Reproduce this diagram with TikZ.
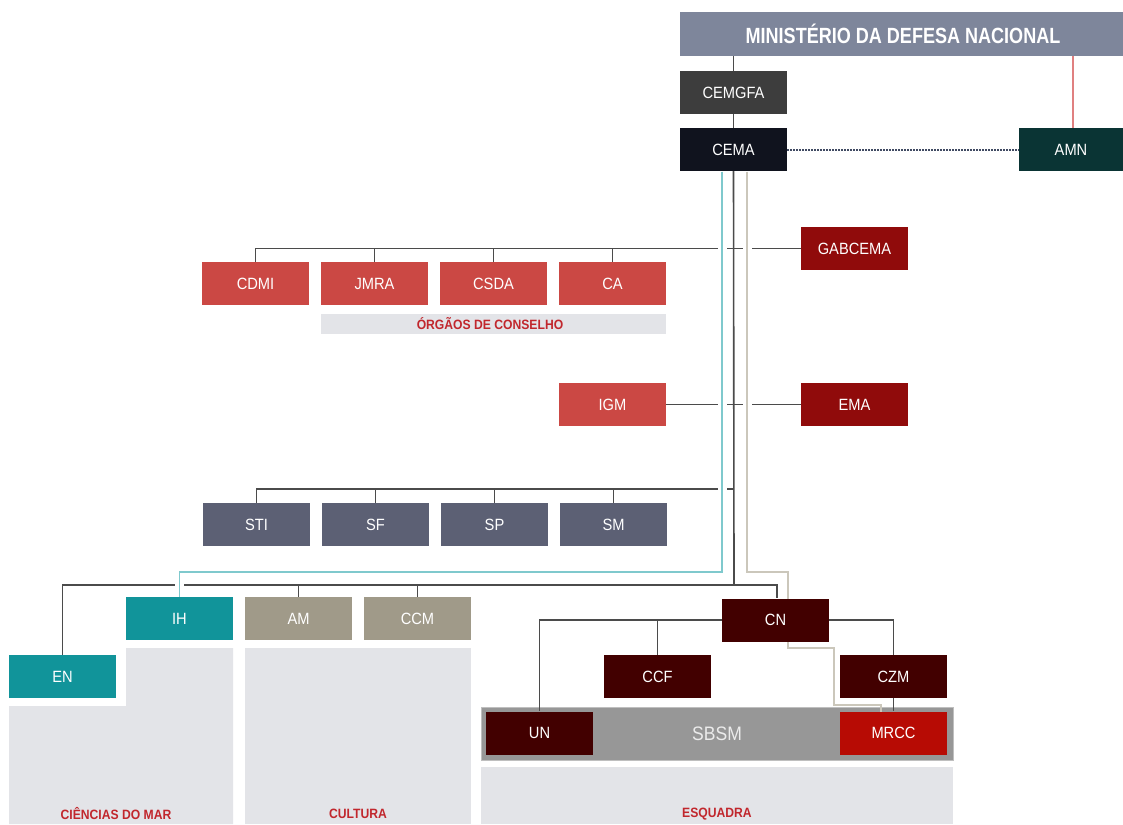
\documentclass[tikz,border=0pt]{standalone}
\usepackage{fontspec}
\setmainfont{Liberation Sans}
\newfontfamily\labfam[FakeStretch=0.9]{Liberation Sans}
\newfontfamily\titfam[FakeStretch=0.82]{Liberation Sans}
\newfontfamily\smfam[FakeStretch=0.9]{Liberation Sans}
\definecolor{cmdn}{HTML}{7E869B}
\definecolor{ccemgfa}{HTML}{3D3D3D}
\definecolor{ccema}{HTML}{10131E}
\definecolor{camn}{HTML}{0A3434}
\definecolor{credl}{HTML}{CB4844}
\definecolor{credd}{HTML}{900B0B}
\definecolor{cslate}{HTML}{5C6074}
\definecolor{cteal}{HTML}{11949A}
\definecolor{ctaupe}{HTML}{A09A89}
\definecolor{cmaroon}{HTML}{420000}
\definecolor{cmrcc}{HTML}{B70B04}
\definecolor{cpanel}{HTML}{E3E4E8}
\definecolor{clabel}{HTML}{C1272D}
\definecolor{cline}{HTML}{4B4B4B}
\definecolor{ctealline}{HTML}{7FC9CD}
\definecolor{cbeige}{HTML}{CBC7BB}
\definecolor{cdot}{HTML}{404A62}
\definecolor{csbsm}{HTML}{979797}
\definecolor{cpink}{HTML}{E08080}
\tikzset{
  bx/.style={minimum width=107pt, minimum height=43pt, inner sep=0pt, text=white,
    font=\labfam\fontsize{16.3}{19}\selectfont},
  dk/.style={draw=cline, line width=1.6pt},
  tl/.style={draw=ctealline, line width=1.9pt},
  bg/.style={draw=cbeige, line width=1.9pt},
  casing/.style={draw=white, line width=9pt},
  plabel/.style={text=clabel, font=\smfam\bfseries\fontsize{13.5}{15}\selectfont, inner sep=0pt}
}
\begin{document}
\begin{tikzpicture}[x=1pt,y=-1pt]
\useasboundingbox (0,0) rectangle (1123,824);
\fill[white] (0,0) rectangle (1123,824);
% panels
\fill[cpanel] (126,648) -- (233,648) -- (233,824) -- (9,824) -- (9,706) -- (126,706) -- cycle;
\fill[cpanel] (245,648) rectangle (471,824);
\fill[cpanel] (481,767) rectangle (953,824);
\node[plabel] (lcdm) at (116,814) {CIÊNCIAS DO MAR};
\node[plabel] (lcul) at (358,814) {CULTURA};
\node[plabel] (lesq) at (717,814) {ESQUADRA};
\fill[cpanel] (321,314) rectangle (666,334);
\node[plabel] (lorg) at (490,324) {ÓRGÃOS DE CONSELHO};
% SBSM band
\node[draw=black!25, line width=0.8pt, fill=csbsm, minimum width=472pt, minimum height=53pt, inner sep=0pt,
  text=white!92!black, font=\labfam\fontsize{19.5}{22}\selectfont] (sbsm) at (717,733.5) {SBSM};

% title box
\node[bx, fill=cmdn, minimum width=443pt, minimum height=44pt] (mdn) at (901.5,34) {};
\node[text=white, font=\titfam\bfseries\fontsize{22}{24}\selectfont, inner sep=0pt] (mdnt) at (903,34) {MINISTÉRIO DA DEFESA NACIONAL};

\path
  (733.5,92.5) coordinate (pcemgfa)
  (733.5,149.5) coordinate (pcema)
  (1071,149.5) coordinate (pamn)
  (854.5,248.5) coordinate (pgab)
  (255.5,283.5) coordinate (pcdmi)
  (374.5,283.5) coordinate (pjmra)
  (493.5,283.5) coordinate (pcsda)
  (612.5,283.5) coordinate (pca)
  (612.5,404.5) coordinate (pigm)
  (854.5,404.5) coordinate (pema)
  (256.5,524.5) coordinate (psti)
  (375.5,524.5) coordinate (psf)
  (494.5,524.5) coordinate (psp)
  (613.5,524.5) coordinate (psm)
  (179.5,618.5) coordinate (pih)
  (62.5,676.5) coordinate (pen)
  (298.5,618.5) coordinate (pam)
  (417.5,618.5) coordinate (pccm)
  (775.5,620) coordinate (pcn)
  (657.5,676.5) coordinate (pccf)
  (893.5,676.5) coordinate (pczm)
  (539.5,733) coordinate (pun)
  (893.5,733) coordinate (pmrcc);

\coordinate (j248) at (734,248);
\coordinate (j489) at (734,489);
\coordinate (j585) at (734,585);
\coordinate (r0) at (1073,56);

% invisible placeholders for anchors
\begin{scope}[every node/.style={bx}]
\node (cemgfa) at (pcemgfa) {};
\node (cema) at (pcema) {};
\node[minimum width=104pt] (amn) at (pamn) {};
\node (gabcema) at (pgab) {};
\node (cdmi) at (pcdmi) {};
\node (jmra) at (pjmra) {};
\node (csda) at (pcsda) {};
\node (ca) at (pca) {};
\node (igm) at (pigm) {};
\node (ema) at (pema) {};
\node (sti) at (psti) {};
\node (sf) at (psf) {};
\node (sp) at (psp) {};
\node (sm) at (psm) {};
\node (ih) at (pih) {};
\node (en) at (pen) {};
\node (am) at (pam) {};
\node (ccm) at (pccm) {};
\node (cn) at (pcn) {};
\node (ccf) at (pccf) {};
\node (czm) at (pczm) {};
\node (un) at (pun) {};
\node (mrcc) at (pmrcc) {};
\end{scope}

% dark lines
\draw[dk] (mdn.south -| cemgfa) -- (cemgfa.north);
\draw[dk] (cemgfa.south) -- (cema.north);
\draw[draw=cdot, line width=2pt, dash pattern=on 1.6pt off 1.4pt] (cema.east) -- (amn.west);
\draw[draw=cpink, line width=1.5pt] (r0) -- (r0 |- amn.north);
\draw[dk] (cema.south) -- (j585);
\draw[dk] (gabcema.west) -| (cdmi.north);
\draw[dk] (jmra.north) -- (jmra.north |- j248);
\draw[dk] (csda.north) -- (csda.north |- j248);
\draw[dk] (ca.north) -- (ca.north |- j248);
\draw[dk] (igm.east) -- (ema.west);
\draw[dk] (j489) -| (sti.north);
\draw[dk] (sf.north) -- (sf.north |- j489);
\draw[dk] (sp.north) -- (sp.north |- j489);
\draw[dk] (sm.north) -- (sm.north |- j489);
\draw[dk] (en.north) |- (j585) -| ([xshift=1.5pt]cn.north);
\draw[dk] (am.north) -- (am.north |- j585);
\draw[dk] (ccm.north) -- (ccm.north |- j585);
\draw[dk] (cn.west) -| (un.north);
\draw[dk] (ccf.north) -- (ccf.north |- cn.west);
\draw[dk] (cn.east) -| (czm.north);
\draw[dk] (czm.south) -- (mrcc.north);

% teal line with bridge casing
\coordinate (t0) at (722,171.5);
\coordinate (t1) at (722,572);
\coordinate (t2) at (179.5,572);
\draw[casing] (722,176) -- (t1) -- (t2) -- ([yshift=4pt]ih.north);
\draw[tl] (t0) -- (t1) -- (t2) -- (ih.north);

% beige line
\coordinate (b0) at (747,171.5);
\coordinate (b1) at (747,572);
\coordinate (b2) at (788,572);
\draw[casing] (747,176) -- (747,567);
\draw[bg] (b0) -- (b1) -- (b2) -- (788,648) -- (834,648) -- (834,705) -- (881,705) -- (881,711.5);

% visible boxes
\node[bx, fill=ccemgfa] at (pcemgfa) {CEMGFA};
\node[bx, fill=ccema] at (pcema) {CEMA};
\node[bx, fill=camn, minimum width=104pt] at (pamn) {AMN};
\node[bx, fill=credd] at (pgab) {GABCEMA};
\node[bx, fill=credl] at (pcdmi) {CDMI};
\node[bx, fill=credl] at (pjmra) {JMRA};
\node[bx, fill=credl] at (pcsda) {CSDA};
\node[bx, fill=credl] at (pca) {CA};
\node[bx, fill=credl] at (pigm) {IGM};
\node[bx, fill=credd] at (pema) {EMA};
\node[bx, fill=cslate] at (psti) {STI};
\node[bx, fill=cslate] at (psf) {SF};
\node[bx, fill=cslate] at (psp) {SP};
\node[bx, fill=cslate] at (psm) {SM};
\node[bx, fill=cteal] at (pih) {IH};
\node[bx, fill=cteal] at (pen) {EN};
\node[bx, fill=ctaupe] at (pam) {AM};
\node[bx, fill=ctaupe] at (pccm) {CCM};
\node[bx, fill=cmaroon] at (pcn) {CN};
\node[bx, fill=cmaroon] at (pccf) {CCF};
\node[bx, fill=cmaroon] at (pczm) {CZM};
\node[bx, fill=cmaroon] at (pun) {UN};
\node[bx, fill=cmrcc] at (pmrcc) {MRCC};
\end{tikzpicture}
\end{document}
